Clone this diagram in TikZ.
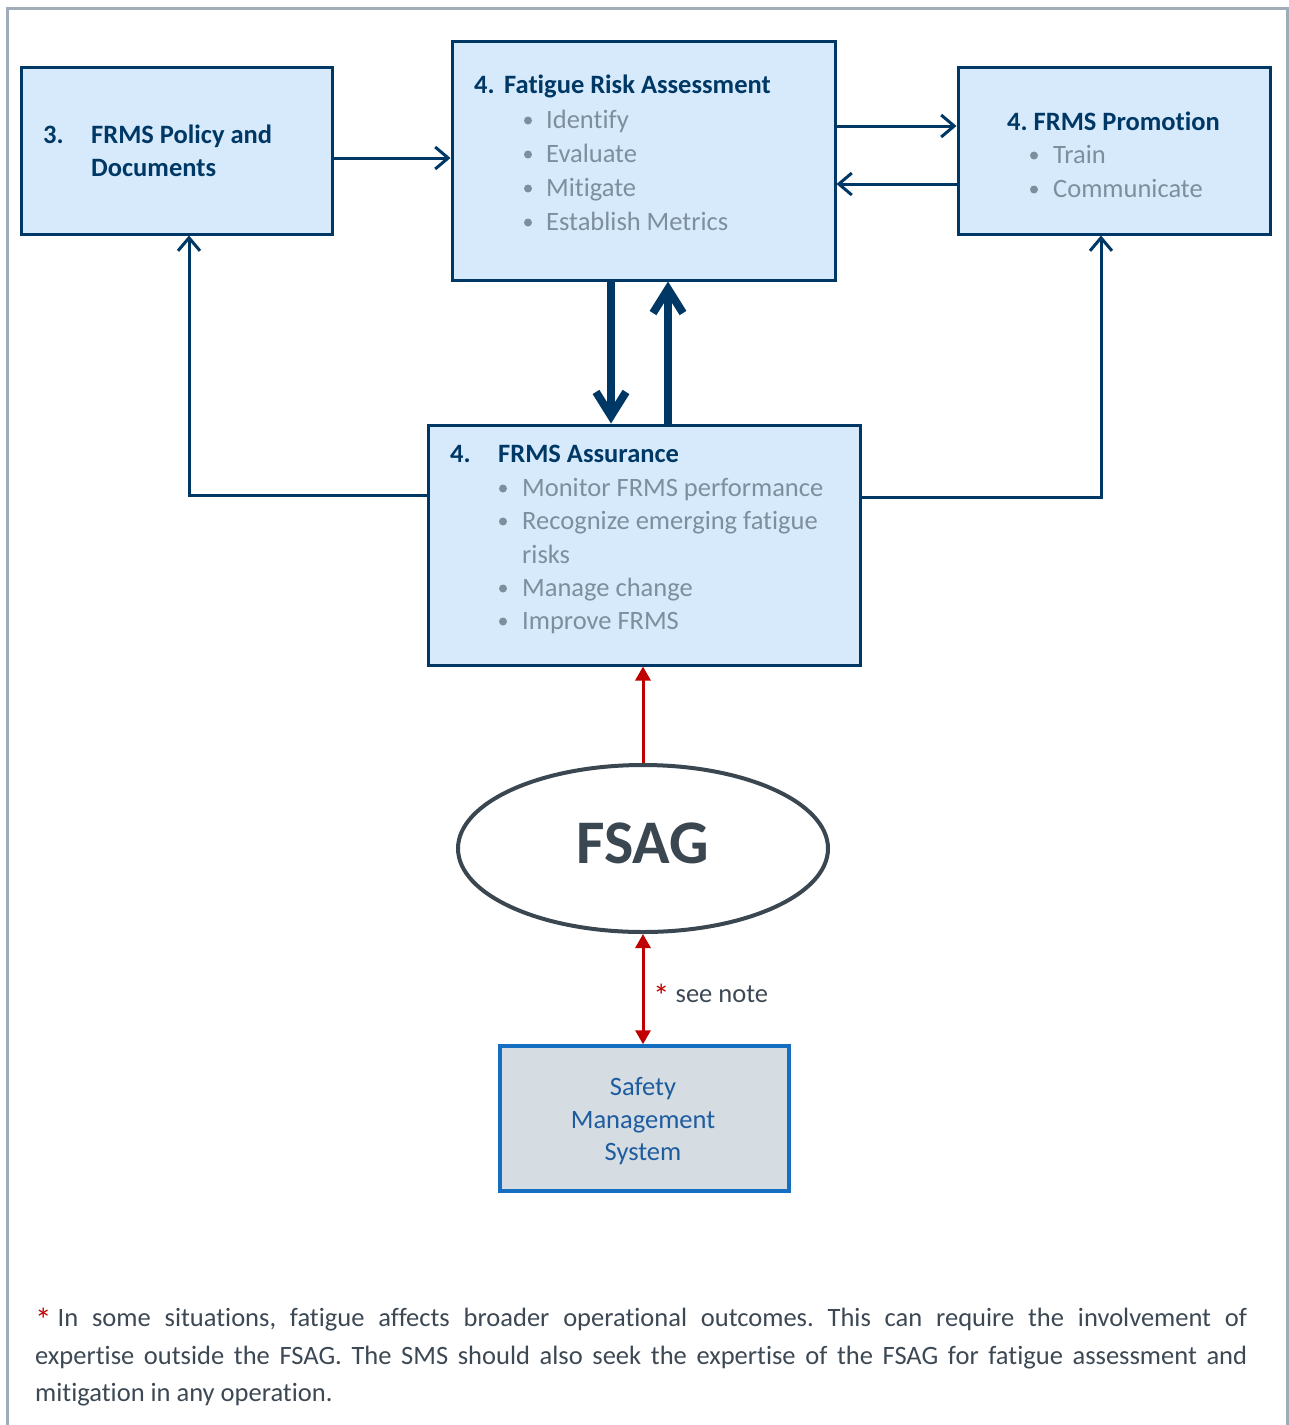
\documentclass[tikz,border=0pt]{standalone}
\usepackage{fontspec}
\setmainfont{Carlito}[Ligatures={NoCommon}]
\usetikzlibrary{arrows.meta,shapes.geometric}
\frenchspacing

\definecolor{navy}{RGB}{0,56,101}
\definecolor{boxfill}{RGB}{214,234,252}
\definecolor{itemgrey}{RGB}{125,142,156}
\definecolor{slate}{RGB}{58,70,80}
\definecolor{notegrey}{RGB}{60,72,84}
\definecolor{smsfill}{RGB}{213,220,226}
\definecolor{smsblue}{RGB}{22,110,192}
\definecolor{smstext}{RGB}{30,92,160}
\definecolor{framegrey}{RGB}{160,172,183}
\definecolor{alertred}{RGB}{192,0,0}

% a larger, slightly lowered red asterisk
\newcommand{\redstar}{\textcolor{alertred}{\raisebox{-5pt}{\fontsize{33}{33}\selectfont*}}\kern6pt}

\begin{document}
\begin{tikzpicture}[x=1pt,y=-1pt,
  box/.style={rectangle, draw=navy, line width=3pt, fill=boxfill, inner sep=0pt},
  txt/.style={inner sep=0pt, anchor=base west, font=\fontsize{26.5}{32}\selectfont},
  head/.style={txt, text=navy, font=\fontsize{26.5}{32}\selectfont\bfseries},
  item/.style={txt, text=itemgrey},
  thinarr/.style={draw=navy, line width=3pt, line cap=round,
    -{Straight Barb[length=13pt,width=22pt]}},
  thickarr/.style={draw=navy, line width=8pt,
    -{Straight Barb[length=24pt,width=30pt]}},
  redarr/.style={draw=alertred, line width=3pt,
    -{Triangle[length=14pt,width=15pt]}},
  redboth/.style={draw=alertred, line width=3pt,
    {Triangle[length=14pt,width=15pt]}-{Triangle[length=14pt,width=15pt]}},
]
\useasboundingbox (0,0) rectangle (1289,1425);

% outer frame, open at the bottom
\draw[framegrey, line width=3pt] (7,1430) -- (7,8) -- (1287,8) -- (1287,1430);

% main boxes
\node[box, minimum width=311pt, minimum height=167pt] (pol) at (176.5,150.5) {};
\node[box, minimum width=383pt, minimum height=239pt] (fra) at (643.5,160.5) {};
\node[box, minimum width=312pt, minimum height=167pt] (pro) at (1114,150.5) {};
\node[box, minimum width=432pt, minimum height=240pt] (asr) at (644,545) {};
\node[ellipse, draw=slate, line width=4pt, fill=white, inner sep=0pt,
      minimum width=370pt, minimum height=167pt] (fsag) at (643,848.5) {};
\node[rectangle, draw=smsblue, line width=3.5pt, fill=smsfill, inner sep=0pt,
      minimum width=289pt, minimum height=145pt] (sms) at (644.5,1118.5) {};

% 3. FRMS Policy and Documents
\node[head] (polnum) at (43,143) {3.};
\node[head] (polt1) at (91,143) {FRMS Policy and};
\node[head] (polt2) at (91,176) {Documents};

% 4. Fatigue Risk Assessment
\node[head] (franum) at (474,93) {4.};
\node[head] (frat) at (504,93) {Fatigue Risk Assessment};
\foreach \t/\yy [count=\i] in {Identify/128, Evaluate/162, Mitigate/196, Establish Metrics/230}{
  \fill[itemgrey] (528,\yy-7.5) circle (4pt);
  \node[item] (fra\i) at (546,\yy) {\t};
}

% 4. FRMS Promotion
\node[head] (prot) at (1007,130) {4. FRMS Promotion};
\foreach \t/\yy [count=\i] in {Train/163, Communicate/197}{
  \fill[itemgrey] (1034,\yy-7.5) circle (4pt);
  \node[item] (pro\i) at (1053,\yy) {\t};
}

% 4. FRMS Assurance
\node[head] (asrnum) at (450,462) {4.};
\node[head] (asrt) at (498,462) {FRMS Assurance};
\foreach \t/\yy [count=\i] in {Monitor FRMS performance/496, Recognize emerging fatigue/529, Manage change/596, Improve FRMS/629}{
  \fill[itemgrey] (503,\yy-7.5) circle (4pt);
  \node[item] (asr\i) at (522,\yy) {\t};
}
\node[item] (asrrisks) at (522,563) {risks};

% FSAG
\node[inner sep=0pt, anchor=base, text=slate, font=\fontsize{62}{70}\selectfont\bfseries] (fsagt) at (643,863) {FSAG};

% Safety Management System
\node[txt, anchor=base, text=smstext] (sms1) at (643,1095) {Safety};
\node[txt, anchor=base, text=smstext] (sms2) at (643,1128) {Management};
\node[txt, anchor=base, text=smstext] (sms3) at (643,1160) {System};

% connectors between the boxes
\coordinate (a1) at ([yshift=-7.5pt]pol.east);
\draw[thinarr] (a1) -- (a1 -| fra.west);
\coordinate (a2) at ([yshift=24.5pt]pro.west);
\draw[thinarr] (a2 -| fra.east) -- (a2);
\coordinate (a3) at ([yshift=-33.5pt]pro.west);
\draw[thinarr] (a3) -- (a3 -| fra.east);
\coordinate (a4) at ([yshift=50pt]asr.west);
\draw[thinarr, line cap=butt] (a4) -| ([xshift=12.5pt]pol.south);
\coordinate (a5) at ([yshift=48pt]asr.east);
\draw[thinarr, line cap=butt] (a5) -| ([xshift=-13pt]pro.south);

\coordinate (a6) at ([xshift=-32.5pt]fra.south);
\draw[thickarr] (a6) -- (a6 |- asr.north);
\coordinate (a7) at ([xshift=24.5pt]fra.south);
\draw[thickarr] (a7 |- asr.north) -- (a7);

\draw[redarr] (fsag.north) -- (fsag.north |- asr.south);
\draw[redboth] (fsag.south) -- (fsag.south |- sms.north);

\node[txt, text=notegrey] (seenote) at (653,1002) {\redstar see note};

% footnote
\node[txt, text=notegrey] (note1) at (35,1326) {\makebox[1212pt][s]{\redstar In some situations, fatigue affects broader operational outcomes. This can require the involvement of}};
\node[txt, text=notegrey] (note2) at (35,1364) {\makebox[1212pt][s]{expertise outside the FSAG. The SMS should also seek the expertise of the FSAG for fatigue assessment and}};
\node[txt, text=notegrey] (note3) at (35,1401) {mitigation in any operation.};
\end{tikzpicture}
\end{document}
